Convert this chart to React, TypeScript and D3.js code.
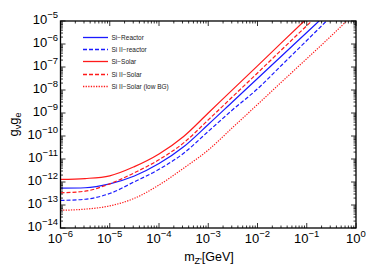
import React from "react";
import * as d3 from "d3";

// log10 of m_Z' [GeV] and log10 of g_nu*g_e
const massSolar = [-6, -5.5, -5, -4.5, -4, -3.5, -3, -2.5, -2, -1.5, -1.05];
const siSolar = [-11.89, -11.85, -11.73, -11.33, -10.78, -10.02, -9.0, -7.97, -6.95, -5.92, -5.0];

const massIISolar = [-6, -5.5, -5, -4.5, -4, -3.5, -3, -2.5, -2, -1.5, -0.9];
const siIISolar = [-12.47, -12.4, -12.08, -11.6, -11.03, -10.3, -9.3, -8.28, -7.26, -6.23, -5.0];

const massReactor = [-6, -5.5, -5, -4.5, -4, -3.5, -3, -2.5, -2, -1.5, -1, -0.75];
const siReactor = [-12.27, -12.25, -12.08, -11.74, -11.2, -10.47, -9.5, -8.5, -7.5, -6.5, -5.5, -5.0];

const massIIReactor = [-6, -5.5, -5, -4.5, -4, -3.5, -3, -2.5, -2, -1.5, -1, -0.6];
const siIIReactor = [-12.8, -12.75, -12.5, -11.99, -11.45, -10.75, -9.8, -8.85, -7.95, -6.9, -5.85, -5.0];

const massLowBG = [-6, -5.5, -5, -4.5, -4, -3.5, -3, -2.5, -2, -1.5, -1, -0.5, -0.19];
const siIISolarLowBG = [-13.23, -13.18, -13.04, -12.71, -12.13, -11.4, -10.61, -9.62, -8.63, -7.63, -6.64, -5.64, -5.0];

const xExponents = [-6, -5, -4, -3, -2, -1, 0];
const yExponents = [-14, -13, -12, -11, -10, -9, -8, -7, -6, -5];

const seriesNames = ["Si\u2212Reactor", "Si II\u2212reactor", "Si\u2212Solar", "Si II\u2212Solar", "Si II\u2212Solar (low BG)"];

const RED = "#ff1a1a";
const BLUE = "#1a1aff";

const series = [
  { name: seriesNames[0], m: massReactor, g: siReactor, color: BLUE, dash: "" },
  { name: seriesNames[1], m: massIIReactor, g: siIIReactor, color: BLUE, dash: "4,2" },
  { name: seriesNames[2], m: massSolar, g: siSolar, color: RED, dash: "" },
  { name: seriesNames[3], m: massIISolar, g: siIISolar, color: RED, dash: "4,2" },
  { name: seriesNames[4], m: massLowBG, g: siIISolarLowBG, color: RED, dash: "1.3,1.3" },
];

const width = 368;
const height = 273;
const left = 60.5;
const right = 356;
const top = 21;
const bottom = 228;

const x = d3.scaleLog().domain([1e-6, 1]).range([left, right]);
const y = d3.scaleLog().domain([1e-14, 1e-5]).range([bottom, top]);

const line = d3
  .line<[number, number]>()
  .x((d) => x(Math.pow(10, d[0])))
  .y((d) => y(Math.pow(10, d[1])))
  .curve(d3.curveMonotoneX);

const font = "'Liberation Sans', Arial, Helvetica, sans-serif";

function minorTicks(lo: number, hi: number) {
  const out: number[] = [];
  for (let e = lo; e < hi; e++) {
    for (let k = 2; k <= 9; k++) out.push(k * Math.pow(10, e));
  }
  return out;
}

export default function App() {
  const xMinor = minorTicks(-6, 0);
  const yMinor = minorTicks(-14, -5);
  const major = 5;
  const minor = 2.5;

  return (
    <svg
      width={width}
      height={height}
      style={{ position: "absolute", left: 0, top: 0, background: "#fff" }}
      fontFamily={font}
    >
      <defs>
        <clipPath id="plot-clip">
          <rect x={left} y={top} width={right - left} height={bottom - top} />
        </clipPath>
      </defs>

      <g clipPath="url(#plot-clip)">
        {series.map((s, i) => (
          <path
            key={`curve${i}`}
            d={line(s.m.map((m, j) => [m, s.g[j]] as [number, number])) || ""}
            fill="none"
            stroke={s.color}
            strokeWidth={1.2}
            strokeDasharray={s.dash}
          />
        ))}
      </g>

      {/* ticks on all four sides, pointing inward */}
      <g stroke="#000" strokeWidth={0.8}>
        {xExponents.map((e) => {
          const px = x(Math.pow(10, e));
          return (
            <g key={`xt${e}`}>
              <line x1={px} x2={px} y1={bottom} y2={bottom - major} />
              <line x1={px} x2={px} y1={top} y2={top + major} />
            </g>
          );
        })}
        {xMinor.map((v, i) => (
          <g key={`xm${i}`}>
            <line x1={x(v)} x2={x(v)} y1={bottom} y2={bottom - minor} />
            <line x1={x(v)} x2={x(v)} y1={top} y2={top + minor} />
          </g>
        ))}
        {yExponents.map((e) => {
          const py = y(Math.pow(10, e));
          return (
            <g key={`yt${e}`}>
              <line x1={left} x2={left + major} y1={py} y2={py} />
              <line x1={right} x2={right - major} y1={py} y2={py} />
            </g>
          );
        })}
        {yMinor.map((v, i) => (
          <g key={`ym${i}`}>
            <line x1={left} x2={left + minor} y1={y(v)} y2={y(v)} />
            <line x1={right} x2={right - minor} y1={y(v)} y2={y(v)} />
          </g>
        ))}
      </g>

      <rect
        x={left}
        y={top}
        width={right - left}
        height={bottom - top}
        fill="none"
        stroke="#000"
        strokeWidth={1.3}
      />

      {/* tick labels */}
      {xExponents.map((e) => (
        <text
          key={`xl${e}`}
          x={x(Math.pow(10, e))}
          y={243}
          textAnchor="middle"
          fontSize={13}
          fill="#000"
        >
          10
          <tspan fontSize={9.5} dy={-6}>
            {e < 0 ? `\u2212${-e}` : `${e}`}
          </tspan>
        </text>
      ))}
      {yExponents.map((e) => (
        <text
          key={`yl${e}`}
          x={58}
          y={y(Math.pow(10, e)) + 3}
          textAnchor="end"
          fontSize={13}
          fill="#000"
        >
          10
          <tspan fontSize={9.5} dy={-6}>
            {`\u2212${-e}`}
          </tspan>
        </text>
      ))}

      {/* axis titles */}
      <text x={209} y={261} textAnchor="middle" fontSize={12.5} fill="#000">
        m
        <tspan fontSize={9} dy={3}>
          Z'
        </tspan>
        <tspan dy={-3}>[GeV]</tspan>
      </text>
      <text
        transform={`translate(18,${(top + bottom) / 2}) rotate(-90)`}
        textAnchor="middle"
        fontSize={13}
        fill="#000"
      >
        g
        <tspan fontSize={9} dy={3}>
          ν
        </tspan>
        <tspan dy={-3}>g</tspan>
        <tspan fontSize={9} dy={3}>
          e
        </tspan>
      </text>

      {/* legend */}
      {series.map((s, i) => {
        const ly = Math.round(37 + i * 12.2) + 0.5;
        return (
          <g key={`lg${i}`}>
            <line
              x1={83}
              x2={108}
              y1={ly}
              y2={ly}
              stroke={s.color}
              strokeWidth={1.3}
              strokeDasharray={s.dash}
            />
            <text x={111.5} y={ly + 2.2} fontSize={6.5} fill="#222">
              {s.name}
            </text>
          </g>
        );
      })}
    </svg>
  );
}
